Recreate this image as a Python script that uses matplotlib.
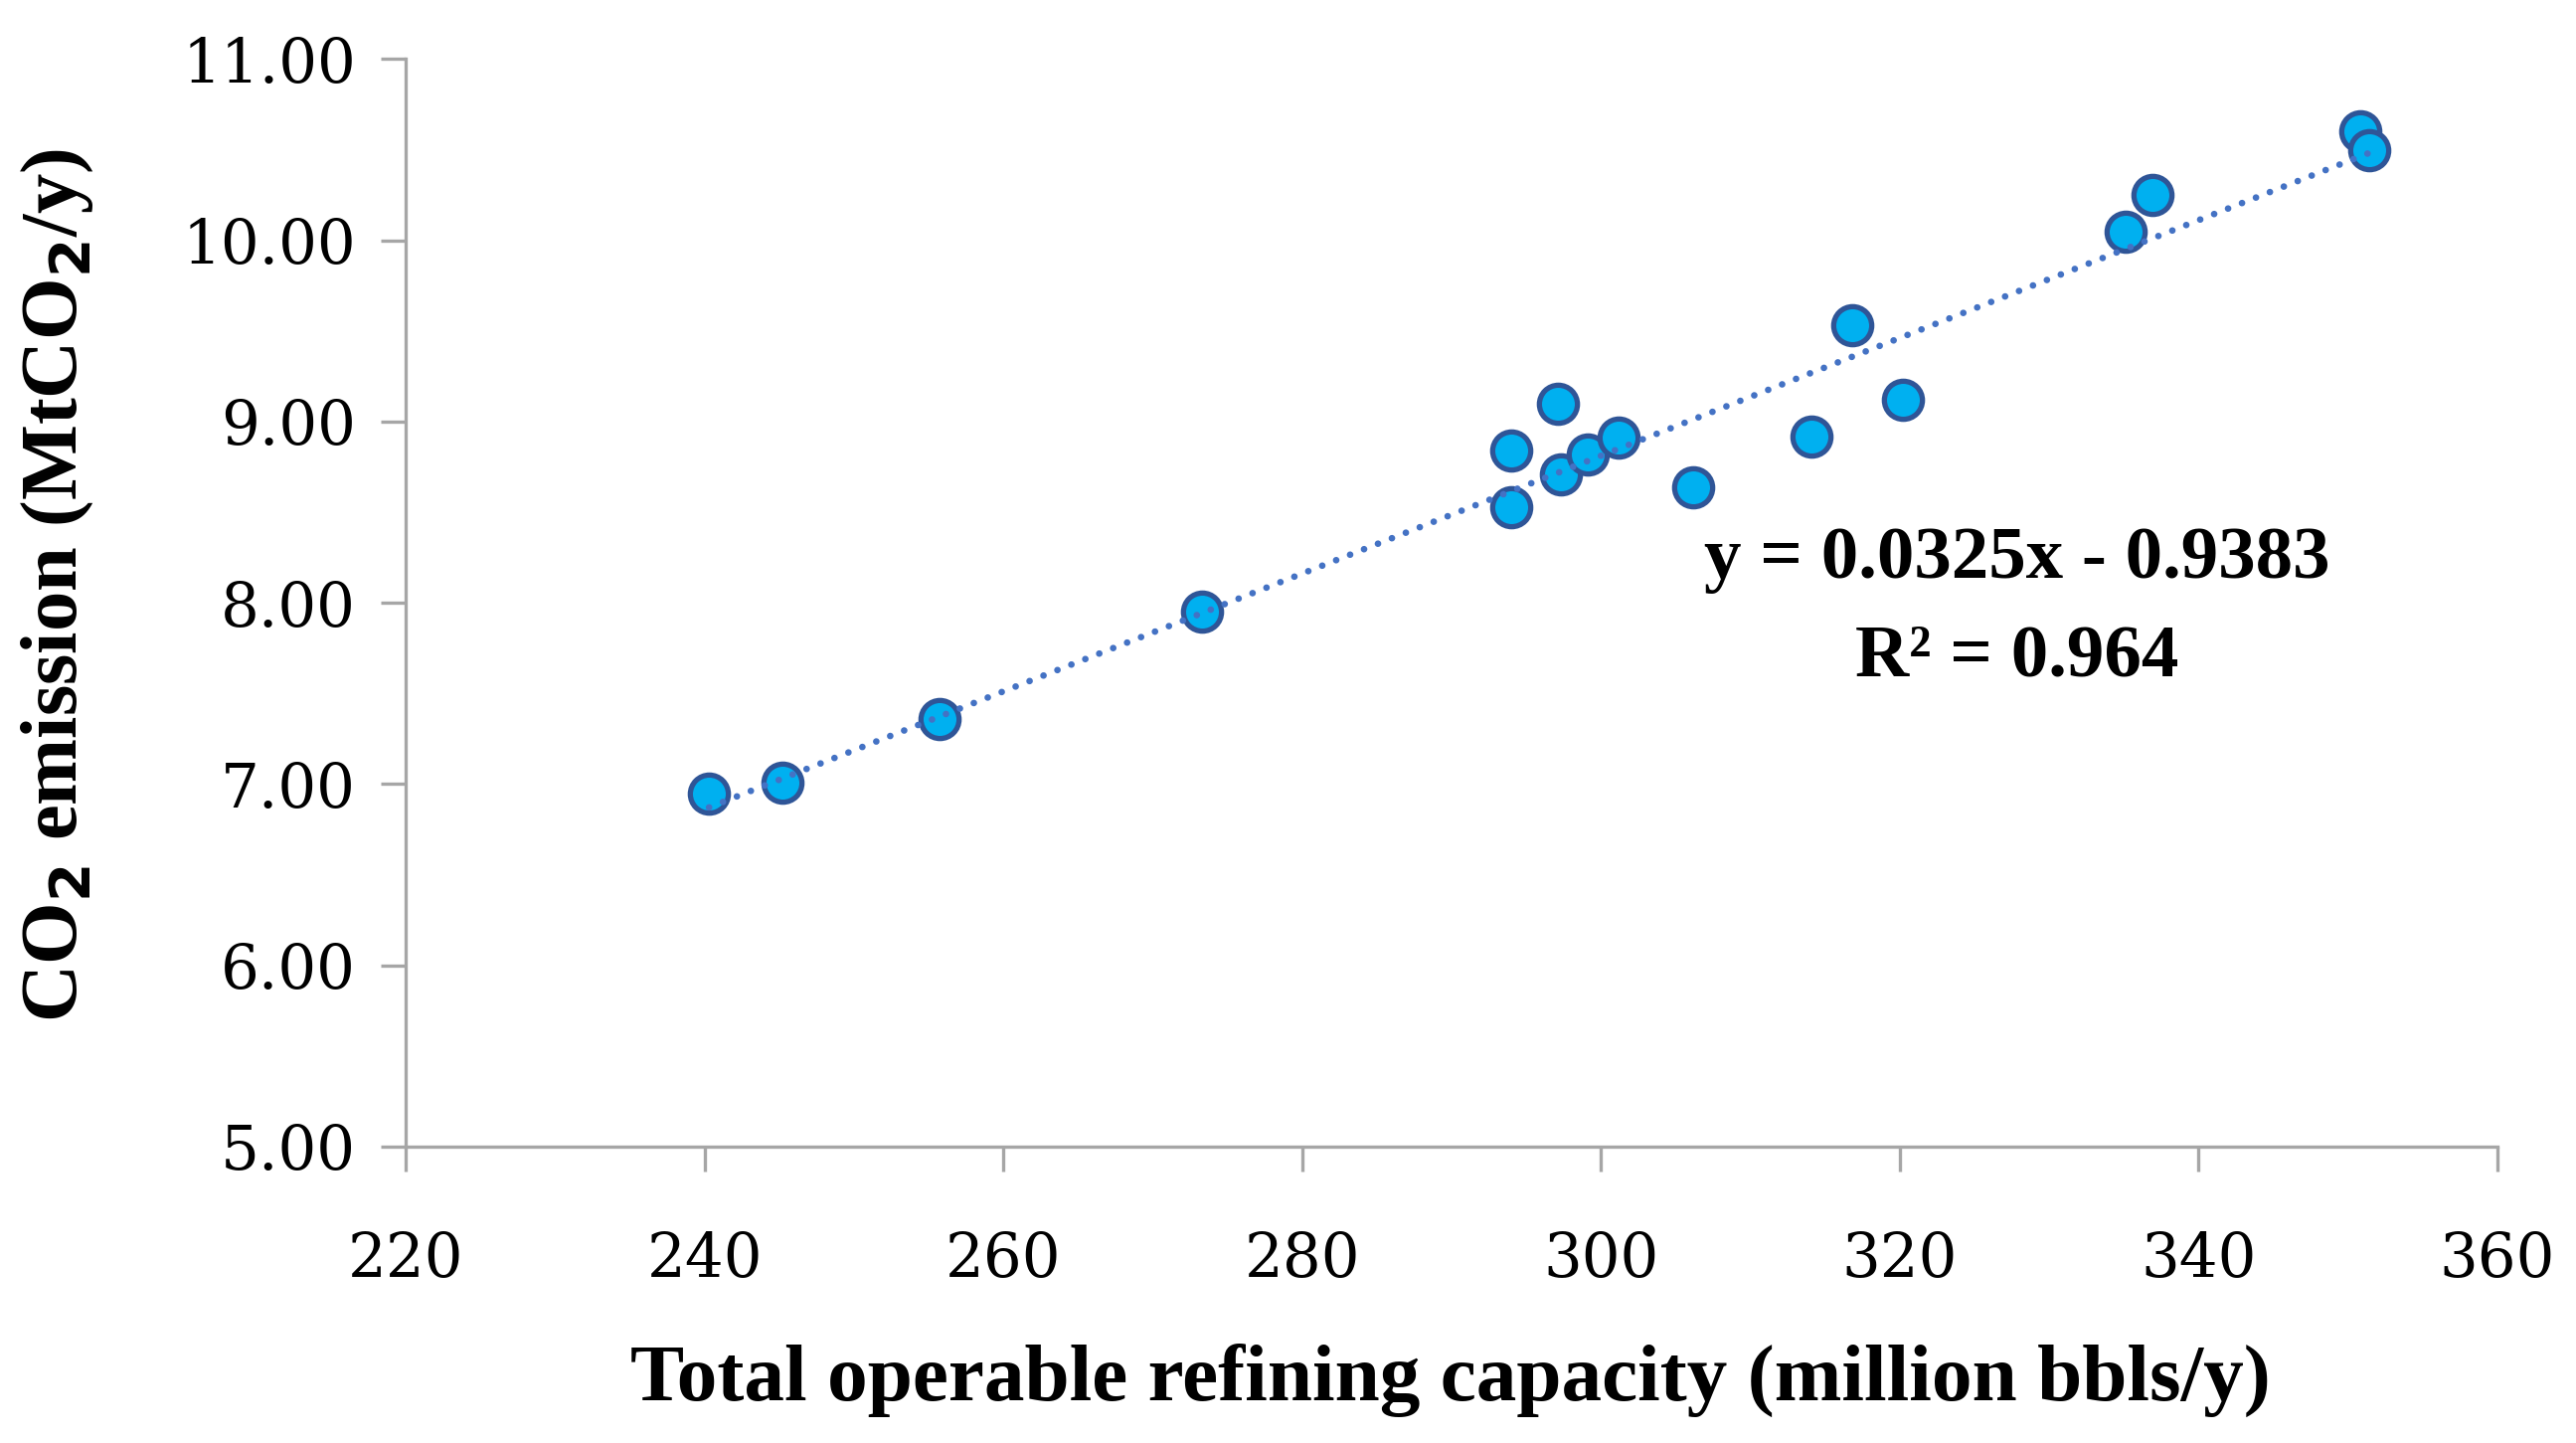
import matplotlib
matplotlib.use("Agg")
import matplotlib.pyplot as plt
import numpy as np

capacity = [240.3, 245.2, 255.7, 273.3, 294.0, 294.0, 297.1, 297.3, 299.1, 301.2,
            306.2, 314.1, 316.8, 320.2, 335.1, 336.9, 350.8, 351.4]
emission = [6.95, 7.01, 7.36, 7.95, 8.84, 8.53, 9.10, 8.71, 8.82, 8.91,
            8.64, 8.92, 9.53, 9.12, 10.05, 10.25, 10.60, 10.50]
slope = 0.0325
intercept = -0.9383
r2 = 0.964
xticks = [220, 240, 260, 280, 300, 320, 340, 360]
yticks = [5, 6, 7, 8, 9, 10, 11]

plt.rcParams['font.family'] = ['Liberation Serif', 'DejaVu Serif']

fig = plt.figure(figsize=(25.91, 14.51), dpi=100)
ax = fig.add_axes([0.1575, 0.2054, 0.812, 0.7536])

xs = np.array([min(capacity), max(capacity)])
ax.plot(xs, slope * xs + intercept, color='#4472C4', lw=4.8,
        linestyle=(0, (0.01, 2.25)), dash_capstyle='round', zorder=3)
ax.scatter(capacity, emission, s=760, facecolor='#00B0F0', edgecolor='#2F5597',
           linewidths=3.8, zorder=2)

ax.set_xlim(220, 360)
ax.set_ylim(5, 11)
ax.set_xticks(xticks)
ax.set_yticks(yticks)
ax.set_xticklabels([str(v) for v in xticks])
ax.set_yticklabels([f"{v:.2f}" for v in yticks])
for s in ['top', 'right']:
    ax.spines[s].set_visible(False)
for s in ['left', 'bottom']:
    ax.spines[s].set_color('#A6A6A6')
    ax.spines[s].set_linewidth(2.4)
ax.tick_params(axis='both', direction='out', length=18, width=2.4, color='#A6A6A6',
               labelsize=44, labelcolor='black')
for lab in ax.get_xticklabels() + ax.get_yticklabels():
    lab.set_fontfamily('DejaVu Serif')
ax.tick_params(axis='x', pad=42)
ax.tick_params(axis='y', pad=18)

fig.text(0.563, 0.0433, 'Total operable refining capacity (million bbls/y)',
         fontsize=58.5, fontweight='bold', ha='center', va='center')
fig.text(0.0223, 0.5945, 'CO$_\\mathbf{2}$ emission (MtCO$_\\mathbf{2}$/y)',
         fontsize=58, fontweight='bold', ha='center', va='center', rotation=90)

fig.text(0.783, 0.612, f'y = {slope}x - {abs(intercept)}', fontsize=54,
         fontweight='bold', ha='center', va='center')
fig.text(0.783, 0.5444, f'R² = {r2}', fontsize=54,
         fontweight='bold', ha='center', va='center')

fig.savefig('out.png', dpi=100)
